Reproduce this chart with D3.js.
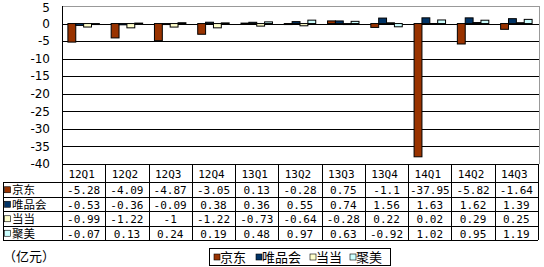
<!DOCTYPE html>
<html>
<head>
<meta charset="utf-8">
<script src="https://cdn.jsdelivr.net/npm/d3@7"></script>
<style>
  body { margin: 0; background: #fff; }
  svg { display: block; }
  text { font-family: "Noto Sans CJK SC", "DejaVu Sans", sans-serif; fill: #000; }
  .num { font-family: "DejaVu Sans Mono", monospace; font-size: 11px; }
  .tick { font-family: "DejaVu Sans", sans-serif; font-size: 12px; }
</style>
</head>
<body>
<script>
var quarters = ["12Q1", "12Q2", "12Q3", "12Q4", "13Q1", "13Q2", "13Q3", "13Q4", "14Q1", "14Q2", "14Q3"];
var seriesNames = ["京东", "唯品会", "当当", "聚美"];
var jd   = [-5.28, -4.09, -4.87, -3.05, 0.13, -0.28, 0.75, -1.1, -37.95, -5.82, -1.64];
var vip  = [-0.53, -0.36, -0.09, 0.38, 0.36, 0.55, 0.74, 1.56, 1.63, 1.62, 1.39];
var dd   = [-0.99, -1.22, -1, -1.22, -0.73, -0.64, -0.28, 0.22, 0.02, 0.29, 0.25];
var jm   = [-0.07, 0.13, 0.24, 0.19, 0.48, 0.97, 0.63, -0.92, 1.02, 0.95, 1.19];
var yTicks = [5, 0, -5, -10, -15, -20, -25, -30, -35, -40];
var colors = ["#993300", "#003366", "#ffffcc", "#ccffff"];
var unitLabel = "（亿元）";

var series = [jd, vip, dd, jm];
var width = 544, height = 267;
var plot = {left: 62, right: 538, top: 6, bottom: 164};
var headerH = 18, rowH = 14.5, tableLeft = 3;

var svg = d3.select("body").append("svg")
    .attr("width", width)
    .attr("height", height);

var x = d3.scaleBand().domain(quarters).range([plot.left, plot.right]);
var x1 = d3.scaleBand().domain(seriesNames).range([0, x.bandwidth()]).paddingOuter(0.75);
var y = d3.scaleLinear().domain([-40, 5]).range([plot.bottom, plot.top]);

// plot border (gray top/right)
svg.append("line")
    .attr("x1", plot.left).attr("x2", plot.right + 2)
    .attr("y1", y(5) + 0.5).attr("y2", y(5) + 0.5)
    .attr("stroke", "#999");
svg.append("line")
    .attr("x1", plot.right + 1.5).attr("x2", plot.right + 1.5)
    .attr("y1", y(5)).attr("y2", plot.bottom)
    .attr("stroke", "#999");

// gridlines
svg.append("g").selectAll("line")
    .data(yTicks.filter(function(d) { return d < 5 && d > -40; }))
  .enter().append("line")
    .attr("x1", plot.left).attr("x2", plot.right + 1)
    .attr("y1", function(d) { return Math.round(y(d)) + 0.5; })
    .attr("y2", function(d) { return Math.round(y(d)) + 0.5; })
    .attr("stroke", "#000");

// y axis labels
svg.append("g").selectAll("text")
    .data(yTicks)
  .enter().append("text")
    .attr("class", "tick")
    .attr("x", 50)
    .attr("y", function(d) { return Math.max(y(d), 8); })
    .attr("dy", "0.35em")
    .attr("text-anchor", "end")
    .text(function(d) { return d; });

// bars
var groups = svg.append("g").selectAll("g")
    .data(quarters)
  .enter().append("g")
    .attr("transform", function(d) { return "translate(" + x(d) + ",0)"; });

groups.selectAll("rect")
    .data(function(q, i) {
      return seriesNames.map(function(s, j) { return {name: s, value: series[j][i], color: colors[j]}; });
    })
  .enter().append("rect")
    .attr("x", function(d) { return x1(d.name); })
    .attr("width", x1.bandwidth())
    .attr("y", function(d) { return y(Math.max(0, d.value)); })
    .attr("height", function(d) { return Math.max(1, Math.abs(y(d.value) - y(0))); })
    .attr("fill", function(d) { return d.color; })
    .attr("stroke", "#000")
    .attr("stroke-width", 1);

// y axis line
svg.append("line")
    .attr("x1", plot.left + 0.5).attr("x2", plot.left + 0.5)
    .attr("y1", plot.top).attr("y2", plot.bottom + headerH + rowH * 4)
    .attr("stroke", "#000");

// data table
var tableTop = plot.bottom;
var tableBottom = tableTop + headerH + rowH * 4;
var tbl = svg.append("g");

tbl.append("line")
    .attr("x1", plot.left).attr("x2", plot.right)
    .attr("y1", tableTop + 0.5).attr("y2", tableTop + 0.5)
    .attr("stroke", "#000");

d3.range(5).forEach(function(r) {
  var yy = Math.round(tableTop + headerH + r * rowH) + 0.5;
  tbl.append("line")
      .attr("x1", tableLeft).attr("x2", plot.right)
      .attr("y1", yy).attr("y2", yy)
      .attr("stroke", "#000");
});

quarters.forEach(function(q) {
  var xx = Math.round(x(q) + x.bandwidth()) + 0.5;
  tbl.append("line")
      .attr("x1", xx).attr("x2", xx)
      .attr("y1", tableTop).attr("y2", tableBottom)
      .attr("stroke", "#000");
});
tbl.append("line")
    .attr("x1", tableLeft + 0.5).attr("x2", tableLeft + 0.5)
    .attr("y1", tableTop + headerH).attr("y2", tableBottom)
    .attr("stroke", "#000");

tbl.selectAll("text.head")
    .data(quarters)
  .enter().append("text")
    .attr("class", "num")
    .attr("x", function(d) { return x(d) + x.bandwidth() / 2 - 2; })
    .attr("y", tableTop + headerH / 2 + 1)
    .attr("dy", "0.35em")
    .attr("text-anchor", "middle")
    .text(function(d) { return d; });

series.forEach(function(vals, j) {
  var cy = tableTop + headerH + rowH * j + rowH / 2 + 1;
  tbl.append("rect")
      .attr("x", tableLeft + 1.5).attr("y", cy - 3.5)
      .attr("width", 6).attr("height", 6)
      .attr("fill", colors[j]).attr("stroke", "#000").attr("stroke-width", 0.6);
  tbl.append("text")
      .attr("x", tableLeft + 9)
      .attr("y", cy)
      .attr("dy", "0.35em")
      .style("font-size", "11.5px")
      .text(seriesNames[j]);
  tbl.selectAll(null)
      .data(vals)
    .enter().append("text")
      .attr("class", "num")
      .attr("x", function(d, i) { return x(quarters[i]) + x.bandwidth() / 2; })
      .attr("y", cy)
      .attr("dy", "0.35em")
      .attr("text-anchor", "middle")
      .text(function(d) { return d; });
});

// unit label
svg.append("text")
    .attr("x", 3).attr("y", 256)
    .attr("dy", "0.35em")
    .style("font-size", "13px")
    .text(unitLabel);

// legend
var legend = svg.append("g");
legend.append("rect")
    .attr("x", 209.5).attr("y", 248.5)
    .attr("width", 181).attr("height", 17)
    .attr("fill", "#fff").attr("stroke", "#000");
var legX = [214, 256, 310, 350];
seriesNames.forEach(function(s, j) {
  legend.append("rect")
      .attr("x", legX[j]).attr("y", 254)
      .attr("width", 6).attr("height", 6)
      .attr("fill", colors[j]).attr("stroke", "#000").attr("stroke-width", 0.6);
  legend.append("text")
      .attr("x", legX[j] + 6).attr("y", 257.5)
      .attr("dy", "0.35em")
      .style("font-size", "13px")
      .text(s);
});
</script>
</body>
</html>
